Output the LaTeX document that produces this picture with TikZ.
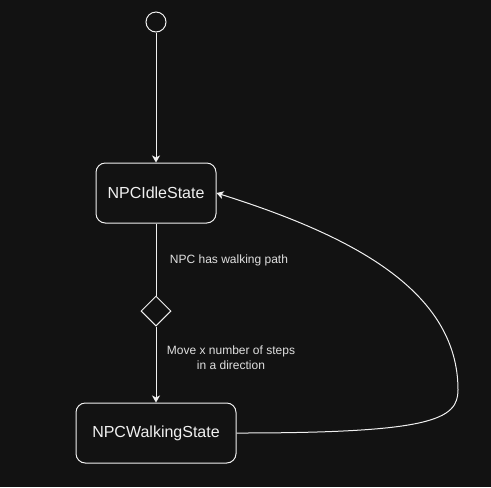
\documentclass[tikz,border=0pt]{standalone}
\usepackage{fontspec}
\setmainfont{Liberation Sans}
\usetikzlibrary{arrows.meta,shapes.geometric}
\definecolor{bg}{HTML}{121212}
\definecolor{ink}{HTML}{F0F0F0}
\definecolor{guardink}{HTML}{E0E0E0}
\tikzset{
  state/.style={draw=ink, line width=0.75pt, rounded corners=7pt,
    minimum height=45pt, text=ink, font=\fontsize{12}{14}\selectfont},
  start/.style={draw=ink, line width=0.75pt, circle, minimum size=15pt, inner sep=0pt},
  choice/.style={draw=ink, line width=0.75pt, diamond, minimum width=22.5pt,
    minimum height=22.5pt, inner sep=0pt},
  guard/.style={text=guardink, font=\fontsize{9}{11.25}\selectfont, align=center, inner sep=0pt}
}
\begin{document}
\begin{tikzpicture}[x=0.75pt,y=-0.75pt]
      \fill[bg] (0,0) rectangle (491,487);
      \useasboundingbox (0,0) rectangle (491,487);
      \draw
        (156,22) node[start] (init){}
        (156,193) node[state, minimum width=90pt] (idle){NPCIdleState}
        (156,311) node[choice] (haspath){}
        (156,433) node[state, minimum width=120pt] (walking){NPCWalkingState};
      \node[guard] (pathlabel) at (229,260) {NPC has walking path};
      \node[guard] (movelabel) at (231,358) {Move x number of steps\\in a direction};
      \coordinate (turn) at (458,390);
      \begin{scope}[ink, line width=0.75pt, -{Stealth[length=5.25pt, width=6pt, inset=1.5pt]}]
        \draw (init) to (idle);
        \draw[-] (idle) to (haspath);
        \draw (haspath) to (walking);
        \draw (walking.east) .. controls (430,433) and (458,420) .. (turn)
          .. controls (458,290) and (350,235) .. (idle.east);
      \end{scope}
    \end{tikzpicture}
\end{document}
